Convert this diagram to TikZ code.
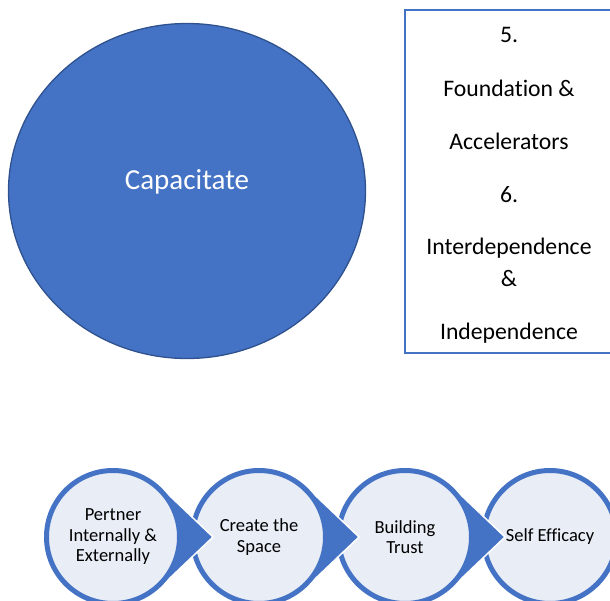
\documentclass[tikz,border=0pt]{standalone}
\usepackage{fontspec}
\setmainfont{Carlito}[Ligatures={NoCommon}]
\usetikzlibrary{shapes.geometric}
\definecolor{accent}{HTML}{4472C4}
\definecolor{accentdark}{HTML}{2F528F}
\definecolor{stagefill}{HTML}{E9EDF6}
\tikzset{
	bigcircle/.style={ellipse, fill=accent, draw=accentdark, line width=1.3pt,
		minimum width=357pt, minimum height=335pt, inner sep=0pt},
	boxtext/.style={anchor=base, font=\fontsize{23.7}{28}\selectfont},
	stage/.style={circle, fill=stagefill, draw=accent, line width=5pt,
		minimum size=133pt, inner sep=0pt, align=center,
		font=\fontsize{18.5}{20.5}\selectfont},
	teardrop/.style={fill=accent, draw=white, line width=1.5pt},
}

\begin{document}
\begin{tikzpicture}[x=1pt, y=-1pt]
	\useasboundingbox (0,0) rectangle (610,601);
	\clip (0,0) rectangle (610,601);

	% big circle
	\node[bigcircle] (cap) at (187,191) {};
	\node[anchor=base, text=white, font=\fontsize{29}{34}\selectfont] (capname) at (187,190) {Capacitate};

	% text box on the right
	\node[draw=accent, line width=2pt, minimum width=220pt, minimum height=342.5pt,
		inner sep=0pt, anchor=north west] (box) at (404,9.5) {};
	\foreach \ty/\txt [count=\i] in {43/5., 97/Foundation \&, 150/Accelerators, 203/6.,
			255/Interdependence, 287/\&, 340/Independence}
		\node[boxtext] (line\i) at (509,\ty) {\txt};

	% process, drawn from right to left
	\node[stage] (s4) at (550,537) {Self Efficacy};
	\foreach \cx/\nm/\txt in {405/s3/{Building\\Trust}, 259/s2/{Create the\\Space},
			113/s1/{Pertner\\Internally \&\\Externally}} {
		\filldraw[teardrop] (\cx+100,537) -- ([shift={(46.4:69)}]\cx,537)
			arc[start angle=46.4, end angle=313.6, radius=69] -- cycle;
		\node[stage] (\nm) at (\cx,537) {\txt};
	}
\end{tikzpicture}
\end{document}
